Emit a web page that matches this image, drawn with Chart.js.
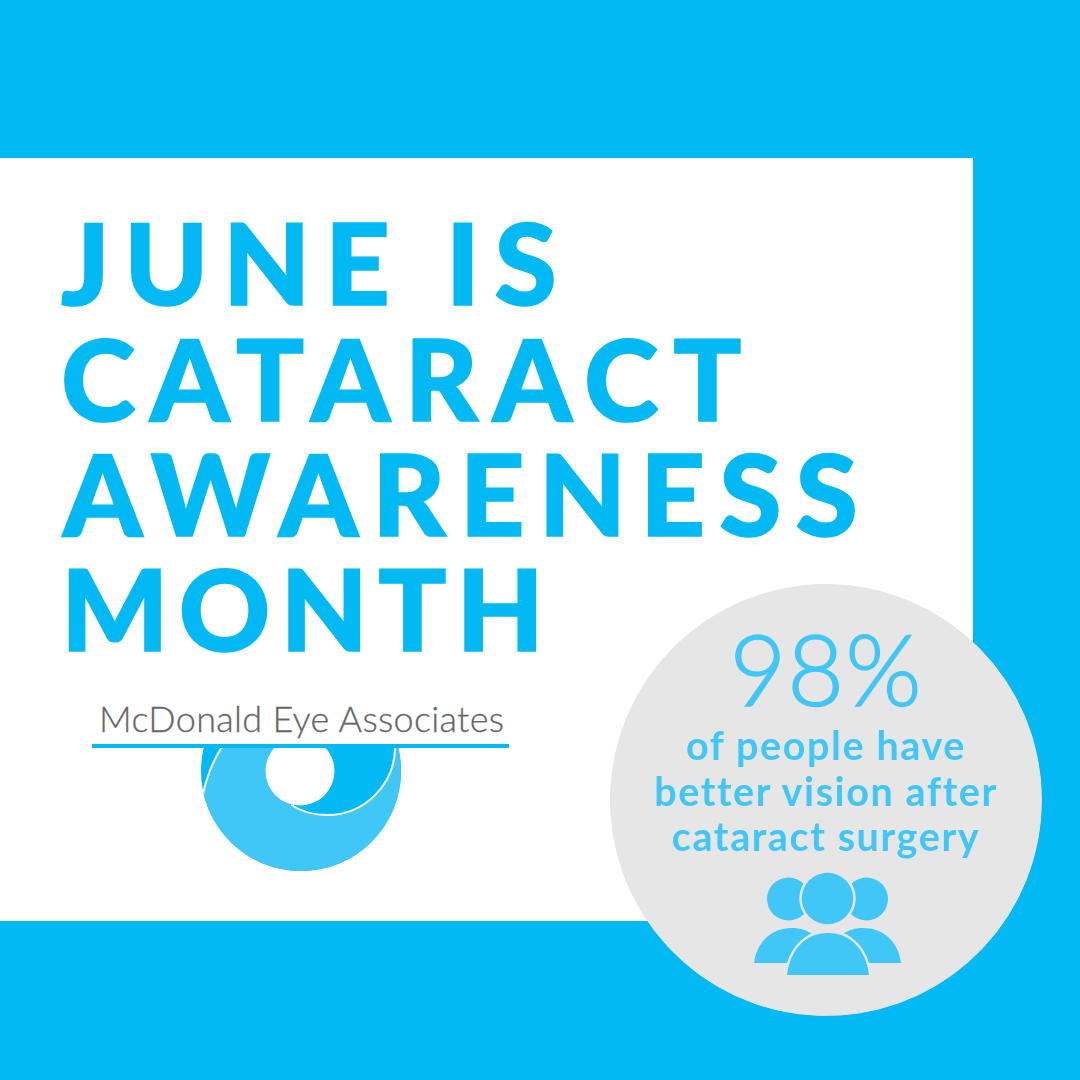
<!DOCTYPE html>
<html>
<head>
<meta charset="utf-8">
<script src="https://cdn.jsdelivr.net/npm/chart.js@4"></script>
<style>
  html, body { margin: 0; padding: 0; }
  body { width: 1080px; height: 1080px; background: #02b9f4; position: relative; overflow: hidden; font-family: Lato, sans-serif; }
  #panel { position: absolute; left: 0; top: 158px; width: 973px; height: 763px; background: #fff; }
  #statCanvas { position: absolute; left: 610px; top: 584px; }
  #art { position: absolute; left: 0; top: 0; }
  .headline { position: absolute; color: #02b9f4; font-size: 113px; font-weight: 900; line-height: 1; white-space: nowrap; -webkit-text-stroke: 1.6px #02b9f4; }
  .stat-line { position: absolute; left: 610px; width: 432px; text-align: center; color: #40c6f7; font-size: 39.5px; font-weight: 700; line-height: 1; letter-spacing: 1.6px; white-space: nowrap; }
  #statNumber { position: absolute; left: 610px; width: 432px; top: 619px; text-align: center; color: #40c6f7; font-size: 98px; font-weight: 300; line-height: 1; letter-spacing: 1px; -webkit-text-stroke: 1.5px #40c6f7; }
  #brand { position: absolute; left: 99px; top: 700px; color: #666; font-size: 36px; font-weight: 300; line-height: 1; letter-spacing: 0.3px; white-space: nowrap; -webkit-text-stroke: 0.3px #666; }
</style>
</head>
<body>
<div id="panel"></div>
<canvas id="statCanvas" width="432" height="432"></canvas>

<div class="headline" style="left:61px;top:205px;letter-spacing:14.5px">JUNE IS</div>
<div class="headline" style="left:61px;top:321px;letter-spacing:14.6px">CATARACT</div>
<div class="headline" style="left:63px;top:436px;letter-spacing:14.1px">AWARENESS</div>
<div class="headline" style="left:61px;top:551px;letter-spacing:10.2px">MONTH</div>

<div id="brand">McDonald Eye Associates</div>
<div id="statNumber"></div>
<div class="stat-line" style="top:725px">of people have</div>
<div class="stat-line" style="top:771px">better vision after</div>
<div class="stat-line" style="top:816px">cataract surgery</div>

<svg id="art" width="1080" height="1080" viewBox="0 0 1080 1080">
  <defs>
    <clipPath id="below"><rect x="190" y="748" width="220" height="130"/></clipPath>
    <clipPath id="eye"><circle cx="301" cy="771" r="100"/></clipPath>
    <clipPath id="rightOfHole"><rect x="291" y="748" width="120" height="130"/></clipPath>
  </defs>
  <!-- logo -->
  <g clip-path="url(#below)">
    <circle cx="301" cy="771" r="100" fill="#02b9f4"/>
    <g clip-path="url(#eye)">
      <circle cx="343" cy="823" r="143" fill="#40c6f7" stroke="#fff" stroke-width="2"/>
      <g clip-path="url(#rightOfHole)">
        <circle cx="327" cy="747" r="68" fill="#02b9f4" stroke="#fff" stroke-width="2"/>
      </g>
    </g>
    <circle cx="300" cy="771" r="34.5" fill="#fff"/>
  </g>
  <rect x="92" y="744" width="417" height="4" fill="#02b9f4"/>
  <!-- people icon -->
  <g fill="#40c6f7">
    <circle cx="788.5" cy="899" r="21.5"/>
    <circle cx="866.5" cy="899" r="21.5"/>
    <circle cx="827.5" cy="898.5" r="25.7" stroke="#e6e6e6" stroke-width="5" paint-order="stroke"/>
    <path d="M754 963 C757 941 772 928 792 928 C800 928 806 930 812 934 L812 963 Z"/>
    <path d="M901 963 C898 941 883 928 863 928 C855 928 849 930 843 934 L843 963 Z"/>
    <path d="M787 975 C790 950 805 933 828 933 C851 933 866 950 869 975 Z" stroke="#e6e6e6" stroke-width="5" paint-order="stroke"/>
  </g>
</svg>

<script>
// The one figure on the poster
const statLabels = ['Better vision after surgery', 'Other'];
const statValues = [98, 2];
const discColor = '#e6e6e6';

document.getElementById('statNumber').textContent = statValues[0] + '%';

new Chart(document.getElementById('statCanvas').getContext('2d'), {
    type: 'pie',
    data: {
        labels: statLabels,
        datasets: [{
            data: statValues,
            backgroundColor: discColor,
            borderColor: discColor,
            borderWidth: 1
        }]
    },
    options: {
        responsive: false,
        animation: false,
        layout: { padding: 0 },
        plugins: {
            legend: { display: false },
            tooltip: { enabled: false }
        }
    }
});
</script>
</body>
</html>
